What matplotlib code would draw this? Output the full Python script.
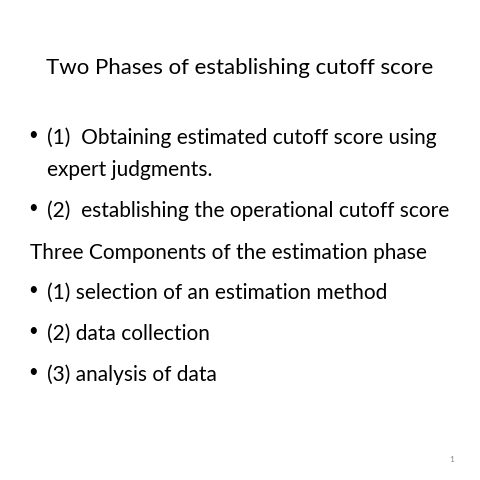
import matplotlib
matplotlib.use("Agg")
import matplotlib.pyplot as plt

title = "Two Phases of establishing cutoff score"
lines = [
    ("•", "(1)  Obtaining estimated cutoff score using"),
    ("", "expert judgments."),
    ("•", "(2)  establishing the operational cutoff score"),
    (None, "Three Components of the estimation phase"),
    ("•", "(1) selection of an estimation method"),
    ("•", "(2) data collection"),
    ("•", "(3) analysis of data"),
]
line_y = [138, 170, 211, 253, 293, 334, 375]
page = "1"

plt.rcParams['font.family'] = ['Lato', 'DejaVu Sans']
fig = plt.figure(figsize=(4.8, 4.8), dpi=100)
ax = fig.add_axes([0, 0, 1, 1])
ax.set_xlim(0, 480)
ax.set_ylim(480, 0)
ax.axis("off")

ax.text(240, 68, title, ha="center", va="center", fontsize=16)
for (b, t), y in zip(lines, line_y):
    if b is None:
        ax.text(30, y, t, ha="left", va="center", fontsize=15)
        continue
    if b:
        ax.text(28, y - 3, b, ha="left", va="center", fontsize=12)
    ax.text(47, y, t, ha="left", va="center", fontsize=15)
ax.text(452, 460, page, ha="center", va="center", fontsize=6, color="#888888")

fig.savefig("out.png", dpi=100)
